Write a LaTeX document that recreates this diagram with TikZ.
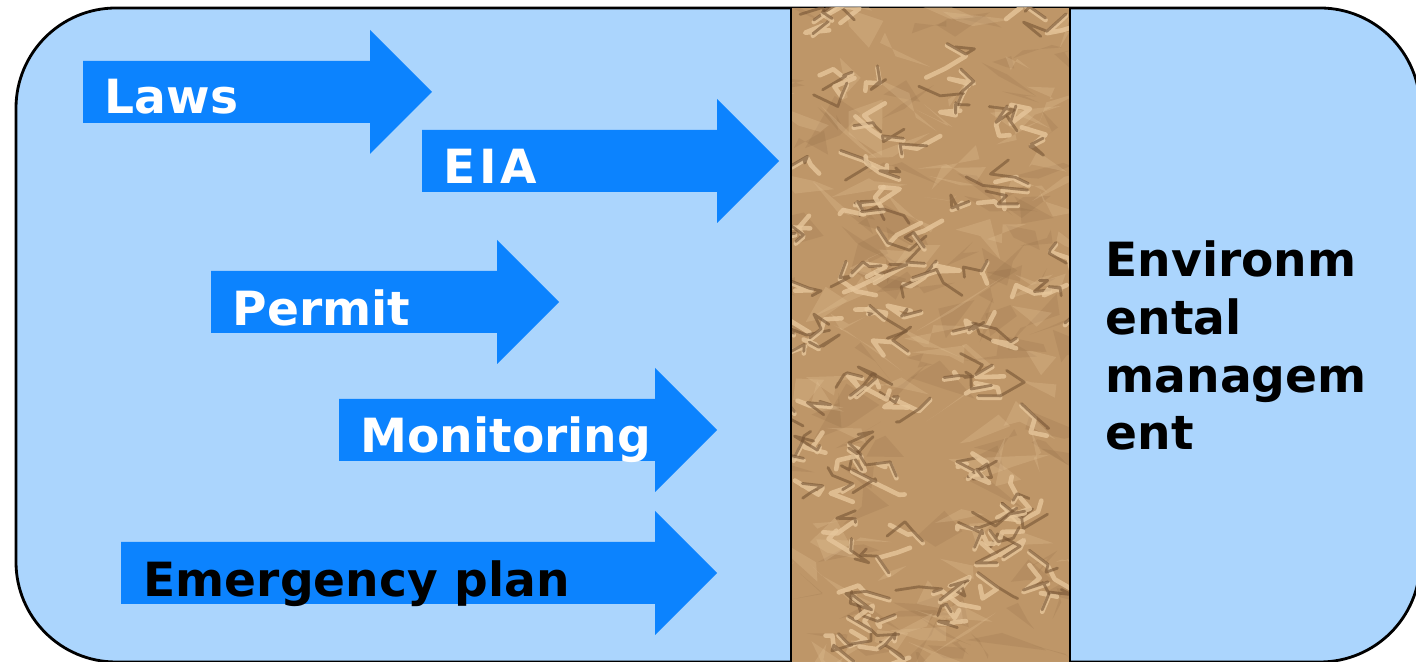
\documentclass[tikz,border=0pt]{standalone}
\usepackage{fontspec}
\setmainfont{DejaVu Sans}

\definecolor{panelblue}{RGB}{171,213,253}
\definecolor{arrowblue}{RGB}{12,131,254}
\definecolor{wallbrown}{RGB}{190,150,104}
\definecolor{creasedark}{RGB}{118,84,52}
\definecolor{creaselight}{RGB}{230,198,155}

\tikzset{
  bigarrow/.style={fill=arrowblue},
  arrowtext/.style={anchor=base west, inner sep=0pt, font=\fontsize{13.4}{16.4}\selectfont\bfseries},
  crease/.style={line cap=round, line join=round},
}

% left end, head base, tip, centre line
\newcommand{\blockarrow}[4]{%
  \fill[bigarrow] (#1,#4-31) -- (#2,#4-31) -- (#2,#4-62) -- (#3,#4)
    -- (#2,#4+62) -- (#2,#4+31) -- (#1,#4+31) -- cycle;}

\begin{document}
\begin{tikzpicture}[x=0.01cm, y=-0.01cm]
\clip (0,0) rectangle (1416,662);

% panel
\draw[fill=panelblue, line width=0.8pt, rounded corners=1cm] (16,8) rectangle (1420,662);

% wall
\begin{scope}
  \clip (791,8) rectangle (1070,662);
  \fill[wallbrown] (791,8) rectangle (1070,662);
  \pgfmathsetseed{42}
  % soft patches
  \foreach \i in {1,...,90}{
    \pgfmathsetmacro{\xa}{791+rnd*279}
    \pgfmathsetmacro{\ya}{8+rnd*654}
    \fill[creasedark, opacity=0.12] (\xa,\ya) -- ++(rand*40,rand*25) -- ++(rand*40,rand*25) -- ++(rand*40,rand*25) -- cycle;
  }
  \foreach \i in {1,...,90}{
    \pgfmathsetmacro{\xa}{791+rnd*279}
    \pgfmathsetmacro{\ya}{8+rnd*654}
    \fill[creaselight, opacity=0.25] (\xa,\ya) -- ++(rand*40,rand*25) -- ++(rand*40,rand*25) -- ++(rand*40,rand*25) -- cycle;
  }
  % creases
  \foreach \i in {1,...,110}{
    \pgfmathsetmacro{\xa}{791+rnd*279}
    \pgfmathsetmacro{\ya}{8+rnd*654}
    \pgfmathsetmacro{\dx}{rand*25}
    \pgfmathsetmacro{\dy}{rand*18}
    \draw[crease, creaselight, line width=1.3pt, opacity=0.8]
      (\xa,\ya+2) -- ++(\dx,\dy) -- ++(rand*25,rand*15) -- ++(rand*25,rand*15);
    \draw[crease, creasedark, line width=0.8pt, opacity=0.6]
      (\xa,\ya) -- ++(\dx,\dy) -- ++(rand*25,rand*15) -- ++(rand*25,rand*15);
  }
\end{scope}
\draw[line width=0.8pt] (791,8) -- (791,662) (1070,8) -- (1070,662);

% arrows
\blockarrow{83}{370}{432}{92}
\blockarrow{422}{717}{779}{161}
\blockarrow{211}{497}{559}{302}
\blockarrow{339}{655}{717}{430}
\blockarrow{121}{655}{717}{573}

\node[arrowtext, white] (laws) at (104,114) {Laws};
\node[arrowtext, white] (eia) at (443,184) {E\kern1pt I\kern1pt A};
\node[arrowtext, white] (permit) at (232,326) {Permit};
\node[arrowtext, white] (monitoring) at (360,453) {Monitoring};
\node[arrowtext, black] (emergency) at (143,597) {Emergency plan};

\node[arrowtext, align=left] (envmgmt) at (1105,450) {Environm\\ental\\managem\\ent};
\end{tikzpicture}
\end{document}
